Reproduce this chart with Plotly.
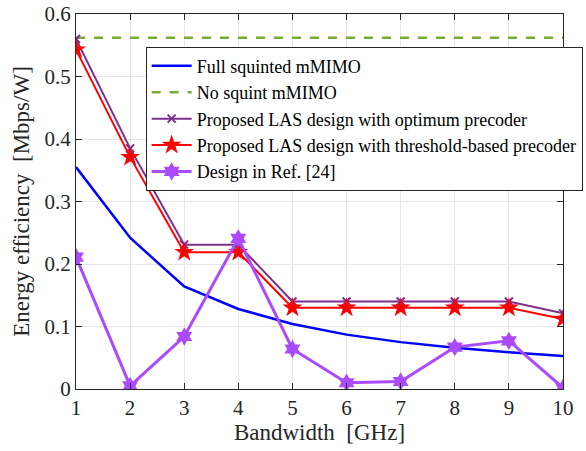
import plotly.graph_objects as go

bandwidth = [1, 2, 3, 4, 5, 6, 7, 8, 9, 10]
full_squinted = [0.355, 0.242, 0.164, 0.128, 0.104, 0.087, 0.075, 0.066, 0.059, 0.053]
no_squint = [0.562] * 10
las_optimum = [0.560, 0.385, 0.231, 0.231, 0.140, 0.140, 0.140, 0.140, 0.140, 0.121]
las_threshold = [0.543, 0.371, 0.219, 0.219, 0.130, 0.130, 0.130, 0.130, 0.130, 0.112]
ref24 = [0.211, 0.005, 0.084, 0.241, 0.064, 0.010, 0.012, 0.067, 0.077, 0.002]

names = [
    "Full squinted mMIMO",
    "No squint mMIMO",
    "Proposed LAS design with optimum precoder",
    "Proposed LAS design with threshold-based precoder",
    "Design in Ref. [24]",
]
x_title = "Bandwidth\u00a0 [GHz]"
y_title = "Energy efficiency\u00a0 [Mbps/W]"

FONT = "Liberation Serif"

fig = go.Figure()
fig.add_trace(go.Scatter(x=bandwidth, y=full_squinted, name=names[0], mode="lines",
                         line=dict(color="#0000FF", width=2.5)))
fig.add_trace(go.Scatter(x=bandwidth, y=no_squint, name=names[1], mode="lines",
                         line=dict(color="#77AC30", width=2.5, dash="dash")))
fig.add_trace(go.Scatter(x=bandwidth, y=las_optimum, name=names[2], mode="lines+markers",
                         line=dict(color="#7E2F8E", width=2),
                         marker=dict(symbol="x-thin-open", size=8, color="#7E2F8E",
                                     line=dict(width=2, color="#7E2F8E"))))
fig.add_trace(go.Scatter(x=bandwidth, y=las_threshold, name=names[3], mode="lines+markers",
                         line=dict(color="#FF0000", width=2),
                         marker=dict(symbol="star", size=15, color="#FF0000")))
fig.add_trace(go.Scatter(x=bandwidth, y=ref24, name=names[4], mode="lines+markers",
                         line=dict(color="#AA4BFF", width=3),
                         marker=dict(symbol="hexagram", size=14, color="#AA4BFF")))

fig.update_layout(
    width=586, height=451,
    margin=dict(l=76, r=23, t=14, b=62, autoexpand=False),
    plot_bgcolor="white", paper_bgcolor="white",
    font=dict(family=FONT, size=21, color="#262626"),
    showlegend=True,
    legend=dict(x=0.143, y=0.913, xanchor="left", yanchor="top",
                bgcolor="white", bordercolor="#262626", borderwidth=1,
                font=dict(family=FONT, size=18, color="#000000"),
                tracegroupgap=0, itemwidth=40),
    xaxis=dict(
        range=[1, 10], tickvals=bandwidth,
        title=dict(text=x_title, standoff=4,
                   font=dict(family=FONT, size=23, color="#262626")),
        tickfont=dict(family=FONT, size=21, color="#262626"),
        showgrid=True, gridcolor="#E6E6E6", gridwidth=1,
        showline=True, linecolor="#262626", linewidth=1, mirror="ticks",
        ticks="inside", ticklen=6, tickcolor="#262626", zeroline=False,
    ),
    yaxis=dict(
        range=[0, 0.6], tickvals=[0, 0.1, 0.2, 0.3, 0.4, 0.5, 0.6],
        ticktext=["0", "0.1", "0.2", "0.3", "0.4", "0.5", "0.6"],
        title=dict(text=y_title, standoff=8,
                   font=dict(family=FONT, size=23, color="#262626")),
        tickfont=dict(family=FONT, size=21, color="#262626"),
        showgrid=True, gridcolor="#E6E6E6", gridwidth=1,
        showline=True, linecolor="#262626", linewidth=1, mirror="ticks",
        ticks="inside", ticklen=6, tickcolor="#262626", zeroline=False,
    ),
)

fig.write_html("out.html")
